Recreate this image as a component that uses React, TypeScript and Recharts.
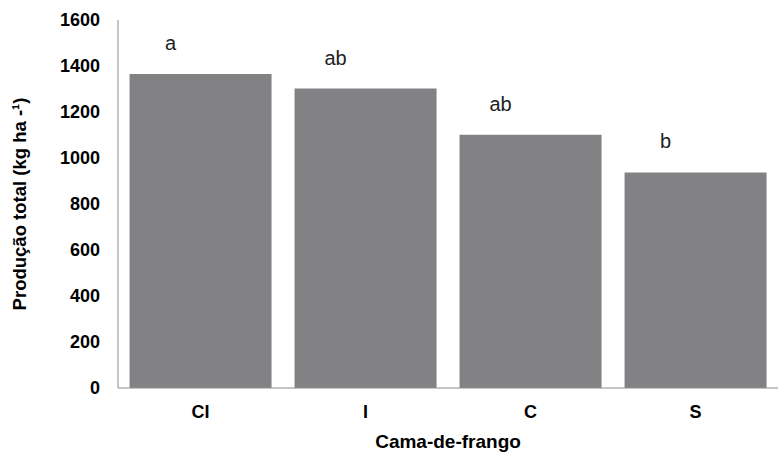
import { BarChart, Bar, XAxis, YAxis, LabelList } from 'recharts'

const categories = ['CI', 'I', 'C', 'S']
const production = [1365, 1302, 1101, 937]
const letters = ['a', 'ab', 'ab', 'b']
const yTicks = [0, 200, 400, 600, 800, 1000, 1200, 1400, 1600]

const data = categories.map((name, i) => ({
  name,
  value: production[i],
  letter: letters[i],
}))

const font = '"Liberation Sans", Arial, sans-serif'
const axisColor = '#8c8c8c'

export default function App() {
  return (
    <div style={{ position: 'absolute', left: 0, top: 0, background: '#fff' }}>
      <BarChart
        width={779}
        height={453}
        data={data}
        margin={{ top: 20, right: 1, bottom: 0, left: 0 }}
        barCategoryGap="7%"
      >
        <XAxis
          dataKey="name"
          height={65}
          tickSize={0}
          tickMargin={17}
          stroke={axisColor}
          tick={{ fill: '#000', fontSize: 18, fontWeight: 'bold', fontFamily: font }}
          label={{
            value: 'Cama-de-frango',
            position: 'insideBottom',
            offset: 5,
            style: { fill: '#000', fontSize: 19, fontWeight: 'bold', fontFamily: font },
          }}
        />
        <YAxis
          width={118}
          domain={[0, 1600]}
          ticks={yTicks}
          tickSize={0}
          tickMargin={18}
          stroke={axisColor}
          tick={{ fill: '#000', fontSize: 18, fontWeight: 'bold', fontFamily: font }}
          label={{
            value: 'Produção total (kg ha -¹)',
            angle: -90,
            position: 'insideLeft',
            offset: 19,
            style: { textAnchor: 'middle', fill: '#000', fontSize: 18.5, fontWeight: 'bold', fontFamily: font },
          }}
        />
        <Bar dataKey="value" fill="#828184" isAnimationActive={false}>
          <LabelList
            dataKey="letter"
            position="top"
            offset={24}
            dx={-30}
            style={{ fill: '#222', fontSize: 20, fontFamily: font }}
          />
        </Bar>
      </BarChart>
    </div>
  )
}
